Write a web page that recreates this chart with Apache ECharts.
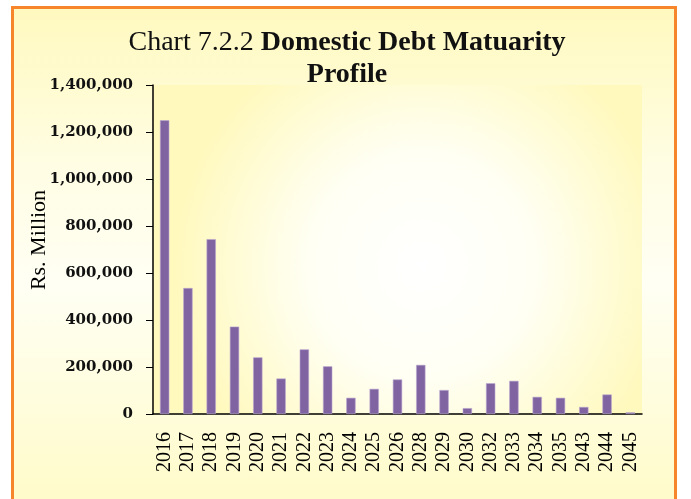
<!DOCTYPE html>
<html>
<head>
<meta charset="utf-8">
<script src="https://cdn.jsdelivr.net/npm/echarts@6/dist/echarts.min.js"></script>
<style>
    html, body { margin: 0; padding: 0; background: #fff; }
    #frame {
        position: absolute; left: 11px; top: 6px; width: 660px; height: 500px;
        border: 3px solid #F7862A; border-bottom: none;
        background: linear-gradient(to bottom, #FFF9BF 0%, #FFFDE2 30%, #FFFFF4 55%, #FFFBC8 100%);
    }
    #chart { position: absolute; left: 0; top: 0; width: 691px; height: 499px; }
</style>
</head>
<body>
<div id="frame"></div>
<div id="chart"></div>
<script>
// 到期年份
var years = ['2016','2017','2018','2019','2020','2021','2022','2023','2024','2025','2026',
    '2028','2029','2030','2032','2033','2034','2035','2043','2044','2045'];
// Rs. Million
var maturity = [1250000, 536000, 744000, 372000, 241000, 151000, 275000, 203000, 69000, 107000, 147000,
    209000, 102000, 25000, 131000, 141000, 73000, 69000, 30000, 83000, 7000];
var yTicks = {min: 0, max: 1400000, step: 200000};

var chart = echarts.init(document.getElementById('chart'), null, {renderer: 'canvas'});

var option = {
    backgroundColor: 'transparent',
    animation: false,
    title: {
        text: '{a|Chart 7.2.2 }{b|Domestic Debt Matuarity}\n{b|Profile}',
        left: 342,
        top: 22,
        textAlign: 'center',
        textStyle: {
            rich: {
                a: {fontFamily: 'Liberation Serif', fontSize: 28, fontWeight: 'normal', color: '#111', lineHeight: 32},
                b: {fontFamily: 'Liberation Serif', fontSize: 28, fontWeight: 'bold', color: '#111', lineHeight: 32}
            }
        }
    },
    grid: {
        left: 153, right: 49, top: 85, bottom: 85,
        show: true,
        borderWidth: 0,
        backgroundColor: new echarts.graphic.RadialGradient(0.55, 0.55, 0.75, [
            {offset: 0, color: '#FFFFFF'},
            {offset: 0.45, color: '#FFFFF4'},
            {offset: 1, color: '#FFF9BE'}
        ])
    },
    xAxis: {
        type: 'category',
        data: years,
        axisLine: {lineStyle: {color: '#000', width: 1.5}},
        axisTick: {show: false},
        axisLabel: {
            rotate: 90,
            margin: 18,
            interval: 0,
            fontFamily: 'Liberation Serif',
            fontSize: 20,
            color: '#000'
        }
    },
    yAxis: {
        type: 'value',
        min: yTicks.min,
        max: yTicks.max,
        interval: yTicks.step,
        name: 'Rs. Million',
        nameLocation: 'middle',
        nameRotate: 90,
        nameGap: 103,
        nameMoveOverlap: false,
        nameTextStyle: {fontFamily: 'Liberation Serif', fontSize: 22, color: '#000', padding: [0, 0, 0, 19]},
        axisLine: {show: true, lineStyle: {color: '#000', width: 1.5}},
        axisTick: {show: true, length: 7, lineStyle: {color: '#000'}},
        splitLine: {show: false},
        axisLabel: {
            margin: 20,
            fontFamily: 'DejaVu Serif',
            fontWeight: 'bold',
            fontSize: 15,
            color: '#111',
            formatter: function (v) { return v.toLocaleString('en-US'); }
        }
    },
    series: [
        {
            name: 'Rs. Million',
            type: 'bar',
            data: maturity,
            barWidth: '40%',
            itemStyle: {color: '#8064A2', borderColor: '#B9A6D0', borderWidth: 0.6}
        }
    ]
};

chart.setOption(option);
window.onresize = function () {
    chart.resize()
}
</script>
</body>
</html>
